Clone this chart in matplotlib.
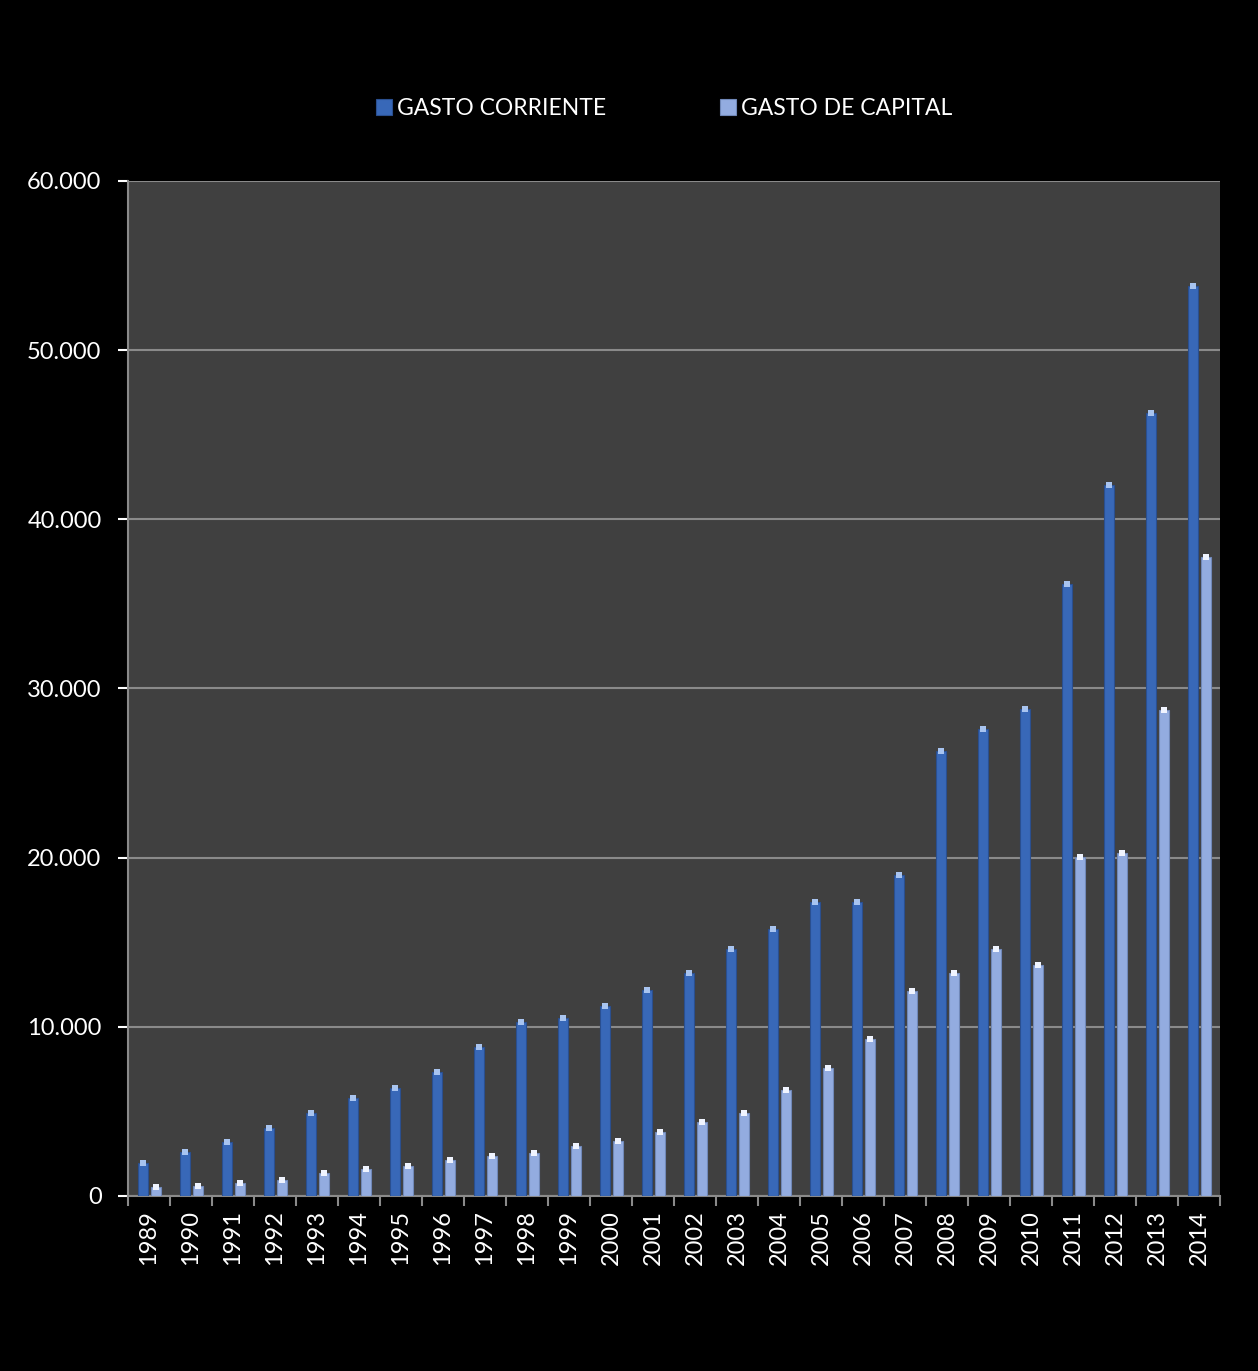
import matplotlib.pyplot as plt
import numpy as np
from matplotlib.ticker import FuncFormatter

years = [str(y) for y in range(1989, 2015)]
gasto_corriente = [1950, 2600, 3200, 4000, 4900, 5800, 6400, 7300, 8800, 10300,
                   10500, 11200, 12200, 13200, 14600, 15800, 17400, 17400, 19000,
                   26300, 27600, 28800, 36200, 42000, 46300, 53800]
gasto_capital = [500, 600, 750, 950, 1350, 1600, 1750, 2100, 2350, 2550,
                 2950, 3250, 3750, 4350, 4900, 6250, 7550, 9300, 12100,
                 13200, 14600, 13650, 20050, 20250, 28700, 37800]

plt.rcParams['font.family'] = ['Lato', 'DejaVu Sans']

fig = plt.figure(figsize=(12.58, 13.71), dpi=100, facecolor='black')
ax = fig.add_axes([0.1017, 0.1277, 0.8681, 0.7403])
ax.set_facecolor('#404040')

x = np.arange(len(years))
w = 0.24
b1 = ax.bar(x - 0.14, gasto_corriente, w, color='#3868b8', edgecolor='#2a4f8f',
            linewidth=0.8, label='GASTO CORRIENTE', zorder=3)
b2 = ax.bar(x + 0.16, gasto_capital, w, color='#93ace0', edgecolor='#7088b8',
            linewidth=0.8, label='GASTO DE CAPITAL', zorder=3)
# bright caps at the top of each bar
ax.scatter(x - 0.14, gasto_corriente, s=14, marker='s', color='#a8c4f0', zorder=4, linewidths=0)
ax.scatter(x + 0.16, gasto_capital, s=14, marker='s', color='#f0f4ff', zorder=4, linewidths=0)

ax.set_xlim(-0.5, len(years) - 0.5)
ax.set_ylim(0, 60000)
ax.set_yticks(range(0, 60001, 10000))
ax.yaxis.set_major_formatter(FuncFormatter(lambda v, p: '0' if v == 0 else f'{int(v):,}'.replace(',', '.')))
ax.grid(axis='y', color='#8a8a8a', linewidth=1.5, zorder=1)
ax.set_axisbelow(True)

ax.set_xticks(x)
ax.set_xticklabels(years, rotation=90)
ax.set_xticks(np.arange(-0.5, len(years)), minor=True)
ax.tick_params(axis='x', which='major', length=0, pad=10)
ax.tick_params(axis='x', which='minor', length=7, color='#8a8a8a', width=1.5)
ax.tick_params(axis='y', length=7, color='#8a8a8a', width=1.5, pad=12)
ax.tick_params(colors='white', labelsize=17)
for lbl in ax.get_xticklabels() + ax.get_yticklabels():
    lbl.set_color('white')

for s in ['top', 'right']:
    ax.spines[s].set_visible(False)
for s in ['left', 'bottom']:
    ax.spines[s].set_color('#8a8a8a')
    ax.spines[s].set_linewidth(1.5)

leg = fig.legend(handles=[b1, b2], loc='center', bbox_to_anchor=(0.528, 0.921), ncol=2,
                 frameon=False, fontsize=16.5, handlelength=0.7, handleheight=0.7,
                 handletextpad=0.2, columnspacing=5.0)
for t in leg.get_texts():
    t.set_color('white')

fig.savefig('out.png', dpi=100, facecolor='black')
